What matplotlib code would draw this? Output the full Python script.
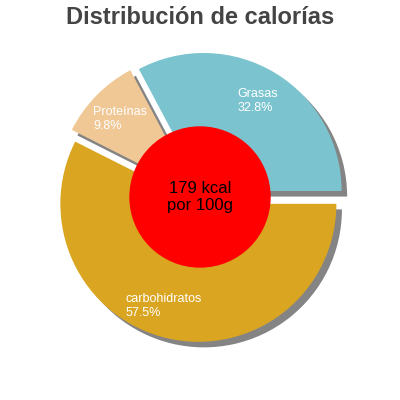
import matplotlib
matplotlib.use("Agg")
import matplotlib.pyplot as plt
from matplotlib.patches import Shadow
import numpy as np

labels = ["Grasas", "Proteínas", "carbohidratos"]
values = [32.8, 9.8, 57.5]
colors = ["#7bc4cf", "#f0c896", "#daa520"]
center_text = "179 kcal\npor 100g"

fig = plt.figure(figsize=(4, 4), dpi=100)
ax = fig.add_axes([0, 0, 1, 1])
cx, cy, R = 200, 203, 138
wedges, _ = ax.pie(values, colors=colors, startangle=0, counterclock=True,
                   center=(cx, cy), radius=R, explode=[7]*3,
                   wedgeprops=dict(width=R-60, linewidth=0, zorder=3), frame=True)
for w in wedges:
    s = Shadow(w, 4, -4, zorder=2)
    s.set_facecolor("#777777"); s.set_alpha(0.9)
    ax.add_patch(s)
ax.set_xlim(0, 400); ax.set_ylim(0, 400); ax.set_aspect("equal"); ax.axis("off")
ax.add_patch(plt.Circle((cx, cy), 70, color="red", zorder=5))
ax.text(cx, cy, center_text, ha="center", va="center", fontsize=12, zorder=6,
        family="Liberation Sans")
for w, lab, v in zip(wedges, labels, values):
    mid = np.deg2rad((w.theta1 + w.theta2) / 2)
    x = w.center[0] + 105*np.cos(mid); y = w.center[1] + 105*np.sin(mid)
    if lab == "carbohidratos":
        x -= 10
    ax.text(x, y, f"{lab}\n{v}%", ha="center", va="center", multialignment="left",
            color="white", fontsize=9, zorder=6, family="Liberation Sans")
fig.text(0.5, 0.955, "Distribución de calorías", ha="center", va="center",
         fontsize=17, fontweight="bold", color="#444444", family="Liberation Sans")
fig.savefig("out.png", dpi=100)
